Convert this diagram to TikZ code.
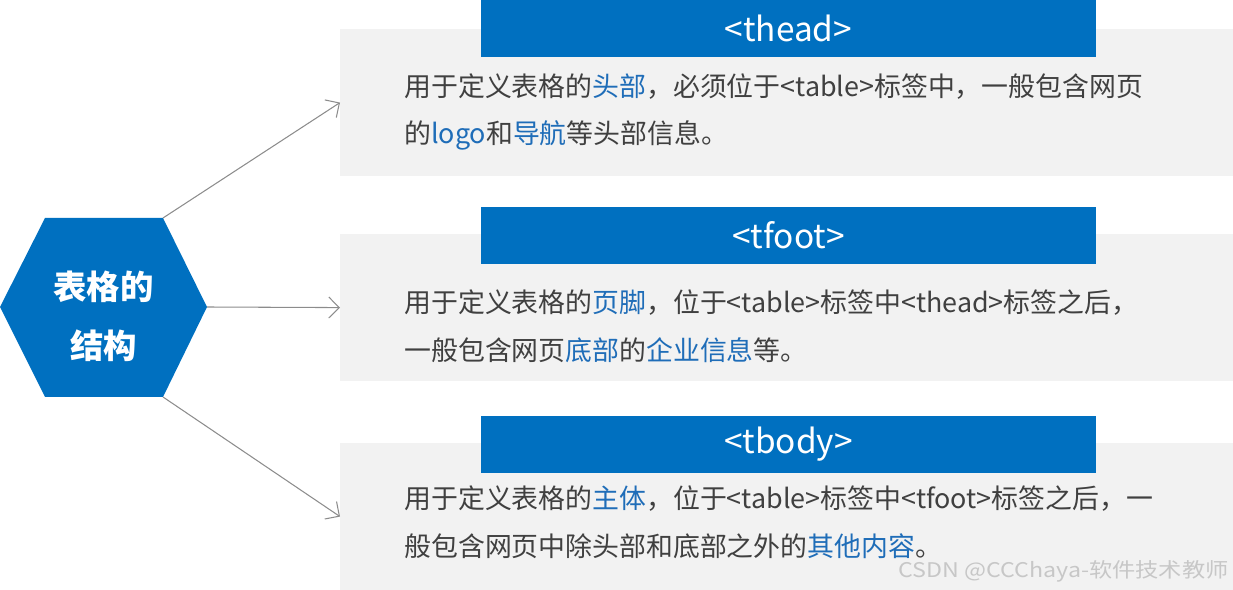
\documentclass[tikz,border=0pt]{standalone}
\usepackage{fontspec}
\setmainfont{Noto Sans CJK SC}
\usetikzlibrary{arrows.meta,positioning}
\definecolor{hdblue}{HTML}{0070C0}
\definecolor{boxgray}{HTML}{F2F2F2}
\definecolor{txtgray}{HTML}{404040}
\definecolor{keyblue}{HTML}{1F6DB8}
\definecolor{lingray}{HTML}{8C8C8C}
\newcommand{\kw}[1]{\textcolor{keyblue}{#1}}

\tikzset{
	descbox/.style={fill=boxgray, minimum width=17.86cm, minimum height=2.93cm, anchor=north west, inner sep=0pt},
	tagbar/.style={fill=hdblue, text=white, minimum width=12.3cm, minimum height=1.14cm, inner sep=0pt, font=\fontsize{19}{22}\selectfont},
	desctext/.style={anchor=west, align=left, inner sep=0pt, text=txtgray, font=\fontsize{15.3}{27.2}\selectfont},
	link/.style={draw=lingray, line width=0.6pt, -{Straight Barb[length=6pt,width=12pt]}}
}

\begin{document}
\begin{tikzpicture}[x=0.02cm, y=-0.02cm]
			%%%%% START %%%%%
			\useasboundingbox (0, 0) rectangle (1233, 590);
			
			\fill[hdblue] (0, 307) -- (45, 218) -- (163, 218) coordinate (hexNE) -- (207, 307) coordinate (hexE)
				-- (163, 397) coordinate (hexSE) -- (45, 397) -- cycle;
			\node[text=white, align=center, font=\fontsize{19}{33.5}\selectfont\bfseries] (hex) at (103.5, 316.5) {表格的\\结构};
			
			\node[descbox] (box1) at (340, 29) {};
			\node[descbox] (box2) at (340, 234) {};
			\node[descbox] (box3) at (340, 443) {};
			
			\node[tagbar] (head1) at (788.5, 28.5) {<thead>};
			\node[tagbar] (head2) at (788.5, 235.5) {<tfoot>};
			\node[tagbar] (head3) at (788.5, 444.5) {<tbody>};
			
			\node[desctext] (text1) at (404, 112) {用于定义表格的\kw{头部}，必须位于<table>标签中，一般包含网页\\的\kw{logo}和\kw{导航}等头部信息。};
			\node[desctext] (text2) at (404, 326) {用于定义表格的\kw{页脚}，位于<table>标签中<thead>标签之后，\\一般包含网页\kw{底部}的\kw{企业信息}等。};
			\node[desctext] (text3) at (404, 522) {用于定义表格的\kw{主体}，位于<table>标签中<tfoot>标签之后，一\\般包含网页中除头部和底部之外的\kw{其他内容}。};
			
			\draw[link] (hexNE) -- (box1.west);
			\draw[link] (hexE) -- (box2.west);
			\draw[link] (hexSE) -- (box3.west);
			
			\node[anchor=east, inner sep=0pt, text=black!22, font=\fontsize{11.5}{14}\selectfont] (mark) at (1229, 571) {\scalebox{1.15}[1]{CSDN @CCChaya-软件技术教师}};
			%%%%% END %%%%%
\end{tikzpicture}
\end{document}
